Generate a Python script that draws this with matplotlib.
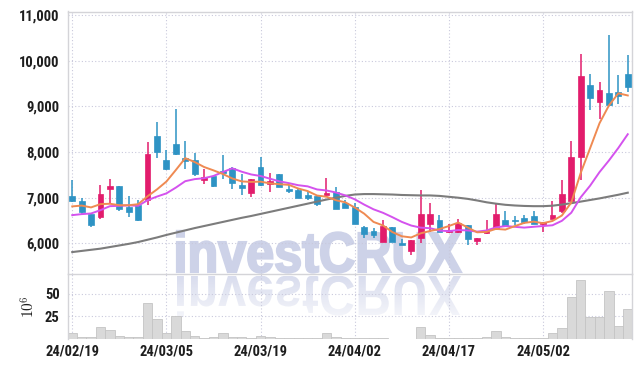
import numpy as np
import pandas as pd
import matplotlib
matplotlib.use('Agg')
import matplotlib.pyplot as plt
from matplotlib.patches import PathPatch
from matplotlib.textpath import TextPath
from matplotlib.font_manager import FontProperties
from matplotlib.transforms import Affine2D

# trading sessions shown (yy/mm/dd)
dates = ['24/02/19', '24/02/20', '24/02/21', '24/02/22', '24/02/23', '24/02/26', '24/02/27', '24/02/28',
         '24/02/29', '24/03/04', '24/03/05', '24/03/06', '24/03/07', '24/03/08', '24/03/11', '24/03/12',
         '24/03/13', '24/03/14', '24/03/15', '24/03/18', '24/03/19', '24/03/20', '24/03/21', '24/03/22',
         '24/03/25', '24/03/26', '24/03/27', '24/03/28', '24/03/29', '24/04/01', '24/04/02', '24/04/03',
         '24/04/04', '24/04/05', '24/04/08', '24/04/09', '24/04/11', '24/04/12', '24/04/15', '24/04/16',
         '24/04/17', '24/04/18', '24/04/19', '24/04/22', '24/04/23', '24/04/24', '24/04/25', '24/04/26',
         '24/04/29', '24/04/30', '24/05/02', '24/05/03', '24/05/07', '24/05/08', '24/05/09', '24/05/10',
         '24/05/13', '24/05/14', '24/05/16', '24/05/17']

opens = [7030, 6925, 6650, 6580, 7180, 7260, 6800, 6840, 6960, 8360,
         7820, 8170, 7870, 7830, 7380, 7470, 7590, 7640, 7270, 7100,
         7670, 7310, 7510, 7200, 7175, 7070, 7030, 7050, 7120, 6880,
         6800, 6350, 6270, 6040, 6350, 6000, 5840, 6110, 6435, 6510,
         6260, 6250, 6400, 6060, 6220, 6320, 6520, 6505, 6560, 6600,
         6425, 6540, 6710, 6920, 7890, 9460, 9095, 9290, 9315, 9700]
highs = [7380, 7000, 6660, 7275, 7400, 7260, 7040, 6950, 8220, 8660,
         8050, 8950, 8240, 7970, 7630, 7480, 7930, 7670, 7525, 7415,
         7890, 7545, 7520, 7270, 7190, 7125, 7040, 7440, 7235, 6950,
         6880, 6390, 6330, 6520, 6350, 6100, 6070, 7175, 6885, 6615,
         6435, 6545, 6400, 6115, 6520, 6885, 6710, 6600, 6630, 6710,
         6465, 6920, 7395, 8240, 10140, 9715, 9535, 10555, 9680, 10120]
lows = [6900, 6650, 6360, 6525, 6890, 6700, 6570, 6500, 6840, 7860,
        7600, 7930, 7620, 7470, 7310, 7240, 7400, 7200, 7050, 7015,
        7260, 7125, 7230, 7100, 7000, 6940, 6820, 7040, 6760, 6770,
        6430, 6110, 6110, 6040, 6040, 5955, 5745, 6015, 6255, 6245,
        6230, 6230, 5965, 5965, 6210, 6320, 6360, 6395, 6415, 6420,
        6240, 6540, 6665, 6920, 7395, 8925, 8730, 9020, 9060, 9315]
closes = [6920, 6690, 6400, 7080, 7250, 6760, 6690, 6510, 7950, 8000,
          7620, 7950, 7810, 7530, 7455, 7250, 7550, 7320, 7210, 7400,
          7280, 7360, 7230, 7140, 7000, 7000, 6870, 7100, 6760, 6770,
          6430, 6200, 6190, 6380, 6040, 5970, 6070, 6640, 6640, 6250,
          6300, 6450, 6100, 6115, 6290, 6635, 6370, 6480, 6467, 6430,
          6465, 6613, 7075, 7890, 9660, 9180, 9350, 9020, 9220, 9425]
# volume in millions of shares
volume = [6.7, 1.9, 1.9, 13.3, 10.0, 3.7, 1.9, 1.9, 40.0, 22.2,
          6.7, 25.9, 9.3, 3.7, 1.1, 2.2, 6.7, 2.2, 1.9, 1.1,
          3.7, 2.2, 1.1, 1.1, 1.1, 1.1, 1.1, 6.7, 1.9, 1.1,
          1.1, 1.1, 1.1, 1.1, 0.4, 0.4, 0.4, 13.3, 4.4, 1.1,
          1.1, 1.1, 1.1, 1.1, 2.2, 8.9, 2.2, 1.1, 1.1, 1.1,
          1.0, 6.7, 12.2, 46.7, 65.2, 24.4, 24.4, 53.7, 14.8, 33.3]

# 9 sessions before 24/02/19, read back from where the MA lines start
warmup_closes = [6470, 6260, 6350, 6380, 6680, 6600, 6600, 6720, 7210]

# long moving average (grey)
ma_long = [5810, 5835, 5860, 5885, 5920, 5955, 5990, 6030, 6080, 6130,
           6185, 6235, 6285, 6335, 6380, 6425, 6470, 6515, 6560, 6600,
           6645, 6690, 6735, 6780, 6825, 6870, 6915, 6960, 7000, 7040,
           7070, 7080, 7080, 7075, 7070, 7060, 7055, 7050, 7050, 7040,
           7020, 7000, 6975, 6940, 6900, 6870, 6845, 6830, 6820, 6815,
           6815, 6825, 6850, 6880, 6915, 6950, 6985, 7025, 7065, 7110]

UP = '#e21c6c'
DOWN = '#2e93c4'
GRID = '#c9c9dc'
SPINE = '#d4d4d8'
TXT = '#1e1e1e'
TICKFONT = dict(fontfamily=['Roboto Condensed', 'Roboto'], fontsize=10.5, fontweight='bold', color=TXT)

all_closes = pd.Series(warmup_closes + closes, dtype=float)
ma5 = all_closes.rolling(5).mean().iloc[len(warmup_closes):].to_numpy()
ma10 = all_closes.rolling(10).mean().iloc[len(warmup_closes):].to_numpy()

x = np.arange(len(dates))
o = np.array(opens, dtype=float)
c = np.array(closes, dtype=float)
up = c >= o
colors = np.where(up, UP, DOWN)

fig = plt.figure(figsize=(6.42, 3.68), dpi=100)
W, H = 642, 368

# background layer in pixel coordinates for the watermark
bg = fig.add_axes([0, 0, 1, 1], zorder=-1)
bg.axis('off')

fp = FontProperties(family='Liberation Sans', weight='bold')
tp = TextPath((0, 0), 'investCRUX', size=1, prop=fp)
bb = tp.get_extents()
cap = TextPath((0, 0), 'X', size=1, prop=fp).get_extents().height
sx, sy = 284 / bb.width, 39 / cap
wm = PathPatch(tp, facecolor='#cdd2e8', edgecolor='#cdd2e8', linewidth=1.6,
               transform=Affine2D().translate(-bb.x0, 0).scale(sx, sy).translate(177, H - 272) + bg.transData)
bg.add_patch(wm)
refl = PathPatch(tp, facecolor='none', edgecolor='none',
                 transform=Affine2D().translate(-bb.x0, 0).scale(sx, -sy).translate(177, H - 276) + bg.transData)
bg.add_patch(refl)
fade = np.linspace(0.75, 0.05, 64)[:, None] * np.ones((1, 4))
rgba = np.zeros((64, 4, 4))
rgba[..., 0], rgba[..., 1], rgba[..., 2] = 0.80, 0.82, 0.91
rgba[..., 3] = fade
img = bg.imshow(rgba, extent=(170, 470, H - 330, H - 276), origin='upper', aspect='auto', interpolation='bilinear')
img.set_clip_path(refl)
bg.set_xlim(0, W)
bg.set_ylim(0, H)

ax = fig.add_axes([68 / W, 1 - 274 / H, 564 / W, 262.5 / H])
axv = fig.add_axes([68 / W, 1 - 339 / H, 564 / W, 65 / H], sharex=ax)

for a in (ax, axv):
    a.set_facecolor('none')
    a.grid(True, color=GRID, linestyle=(0, (1, 2)), linewidth=0.8)
    a.set_axisbelow(True)
    a.tick_params(length=0)
    for s in a.spines.values():
        s.set_color(SPINE)
        s.set_linewidth(1)

# candles
ax.vlines(x, lows, highs, colors=colors, linewidth=1.1, zorder=2)
body_lo = np.minimum(o, c)
body_h = np.maximum(np.abs(c - o), 18)
ax.bar(x, body_h, bottom=body_lo, width=0.62, color=colors, edgecolor=colors, linewidth=0.5, zorder=3)

ax.plot(x, ma_long, color='#7c7c7c', linewidth=1.5, zorder=4)
ax.plot(x, ma10, color='#d452ee', linewidth=1.4, zorder=4)
ax.plot(x, ma5, color='#ef8a52', linewidth=1.4, zorder=4)

ax.set_xlim(-0.45, len(dates) - 0.55)
ax.set_ylim(5330, 11077)
yt = [6000, 7000, 8000, 9000, 10000, 11000]
ax.set_yticks(yt)
ax.set_yticklabels([f'{v:,}' for v in yt], **TICKFONT)
ax.tick_params(axis='x', labelbottom=False)
ax.tick_params(axis='y', pad=6)

axv.bar(x, volume, width=1.0, color='#d9d9d9', edgecolor='#c4c4c4', linewidth=0.6, zorder=2)
axv.set_ylim(0, 72)
axv.set_yticks([25, 50])
axv.set_yticklabels(['25', '50'], **TICKFONT)
axv.set_xticks(x[::10])
axv.set_xticklabels(dates[::10], **TICKFONT)
axv.tick_params(axis='y', pad=6)
axv.tick_params(axis='x', pad=4)
axv.spines['bottom'].set_visible(False)
axv.spines['top'].set_visible(False)
axv.set_ylabel(r'$10^6$', fontsize=11, color=TXT, labelpad=5, math_fontfamily='cm')

fig.savefig('out.png', dpi=100)
